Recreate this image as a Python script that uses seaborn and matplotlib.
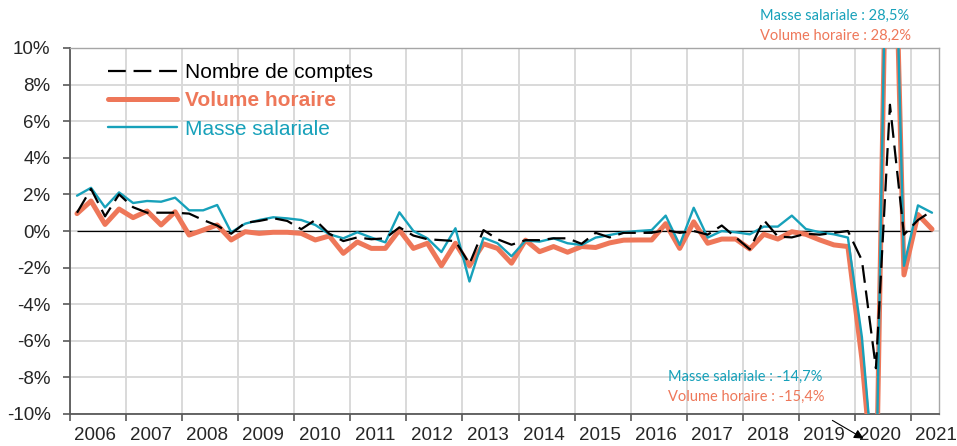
import numpy as np
import pandas as pd
import matplotlib
matplotlib.use("Agg")
import matplotlib.pyplot as plt
import seaborn as sns

# -----------------------------
# DATA (quarterly growth, %)
# -----------------------------
years = [str(y) for y in range(2006, 2022)]
quarters = [f"{y}T{q}" for y in range(2006, 2022) for q in range(1, 5)][:62]

nombre_comptes = [
    1.0, 2.3, 0.8, 2.0, 1.3, 1.0, 1.0, 1.0,
    0.95, 0.6, 0.3, -0.15, 0.45, 0.55, 0.7, 0.55,
    0.1, 0.6, -0.15, -0.55, -0.35, -0.45, -0.4, 0.2,
    -0.25, -0.45, -0.5, -0.55, -1.8, 0.05, -0.45, -0.75,
    -0.5, -0.5, -0.4, -0.4, -0.7, -0.1, -0.35, -0.1,
    -0.1, -0.1, 0.05, -0.1, 0.0, -0.2, 0.3, -0.35,
    -1.0, 0.6, -0.3, -0.35, -0.15, -0.2, -0.1, 0.0,
    -1.6, -7.5, 6.9, -0.2, 0.6, 1.1,
]
volume_horaire = [
    0.95, 1.64, 0.36, 1.2, 0.73, 1.09, 0.33, 1.05,
    -0.22, 0.05, 0.33, -0.49, -0.04, -0.13, -0.07, -0.07,
    -0.13, -0.49, -0.27, -1.22, -0.6, -0.95, -0.95, 0.05,
    -0.95, -0.67, -1.9, -0.67, -1.9, -0.7, -0.95, -1.76,
    -0.5, -1.13, -0.85, -1.16, -0.85, -0.9, -0.65, -0.5,
    -0.49, -0.49, 0.4, -0.95, 0.5, -0.67, -0.44, -0.44,
    -0.98, -0.18, -0.44, -0.04, -0.18, -0.49, -0.76, -0.85,
    -7.0, -15.4, 28.2, -2.4, 0.9, 0.1,
]
masse_salariale = [
    1.93, 2.36, 1.29, 2.11, 1.53, 1.64, 1.6, 1.82,
    1.13, 1.13, 1.42, -0.07, 0.4, 0.6, 0.75, 0.69,
    0.6, 0.33, -0.18, -0.4, -0.07, -0.36, -0.62, 1.02,
    0.0, -0.4, -1.15, 0.15, -2.76, -0.37, -0.67, -1.38,
    -0.52, -0.58, -0.4, -0.67, -0.76, -0.36, -0.22, -0.07,
    0.0, 0.05, 0.84, -0.76, 1.27, -0.36, 0.0, -0.07,
    -0.18, 0.24, 0.24, 0.84, 0.11, -0.07, -0.18, -0.36,
    -5.8, -14.7, 28.5, -1.9, 1.4, 1.0,
]

df = pd.DataFrame({
    "trimestre": quarters,
    "pos": np.arange(len(quarters)),
    "Nombre de comptes": nombre_comptes,
    "Volume horaire": volume_horaire,
    "Masse salariale": masse_salariale,
})

ORANGE = "#EE7759"
TEAL = "#17A1BA"
GRID = "#D9D9D9"

# -----------------------------
# STYLE
# -----------------------------
sns.set_style("white")
plt.rcParams["font.family"] = ["Liberation Sans", "DejaVu Sans"]

fig = plt.figure(figsize=(9.57, 4.46), dpi=100)
ax = fig.add_axes([70 / 957, 1 - 414 / 446, 869 / 957, 366 / 446])

# zero line over the data range
ax.hlines(0, df["pos"].iloc[0], df["pos"].iloc[-1], color="black", lw=0.9, zorder=2)

sns.lineplot(data=df, x="pos", y="Volume horaire", ax=ax, color=ORANGE,
             lw=3.6, label="Volume horaire", zorder=3)
sns.lineplot(data=df, x="pos", y="Masse salariale", ax=ax, color=TEAL,
             lw=1.7, label="Masse salariale", zorder=4)
sns.lineplot(data=df, x="pos", y="Nombre de comptes", ax=ax, color="black",
             lw=1.6, linestyle=(0, (8, 3.5)), label="Nombre de comptes", zorder=5)

# -----------------------------
# AXES
# -----------------------------
n = len(quarters)
ax.set_xlim(-0.5, n - 0.5)
ax.set_ylim(-10, 10)

ax.set_xticks(np.arange(-0.5, n, 4))
ax.set_xticklabels([])
ax.set_xticks(np.arange(1.3, 1.3 + 4 * len(years), 4)[:len(years)], minor=True)
ax.set_xticklabels(years, minor=True)
ax.tick_params(axis="x", which="major", direction="out", length=5, width=1.2,
               color="#595959", bottom=True)
ax.tick_params(axis="x", which="minor", length=0, pad=9, labelsize=13.5)

yt = np.arange(-10, 11, 2)
ax.set_yticks(yt)
ax.set_yticklabels([f"{v}%" for v in yt])
ax.tick_params(axis="y", direction="out", length=5, width=1.2, color="#595959",
               left=True, pad=9, labelsize=13.5)

ax.grid(axis="x", which="major", color=GRID, lw=1.4)
ax.grid(axis="y", which="major", color=GRID, lw=1.4)
ax.set_axisbelow(True)

for s in ["left", "bottom"]:
    ax.spines[s].set_color("#595959")
    ax.spines[s].set_linewidth(1.3)
for s in ["top", "right"]:
    ax.spines[s].set_color("#A6A6A6")
    ax.spines[s].set_linewidth(1.0)

ax.set_xlabel("")
ax.set_ylabel("")

# -----------------------------
# LEGEND
# -----------------------------
h, l = ax.get_legend_handles_labels()
order = [2, 0, 1]
leg = ax.legend([h[i] for i in order], [l[i] for i in order],
                loc="upper left", bbox_to_anchor=(38 / 869, 1 - 15 / 366),
                frameon=False, fontsize=15, handlelength=3.3, handletextpad=0.4,
                labelspacing=0.45, borderpad=0, borderaxespad=0)
txt = leg.get_texts()
txt[0].set_color("black")
txt[1].set_color(ORANGE)
txt[1].set_fontweight("bold")
txt[2].set_color(TEAL)

# -----------------------------
# ANNOTATIONS
# -----------------------------
ann_font = ["Lato", "DejaVu Sans"]
fig.text(835 / 957, 1 - 16 / 446, "Masse salariale : 28,5%", color=TEAL,
         ha="center", va="center", fontsize=10.5, family=ann_font)
fig.text(836 / 957, 1 - 36 / 446, "Volume horaire : 28,2%", color=ORANGE,
         ha="center", va="center", fontsize=10.5, family=ann_font)
fig.text(668 / 957, 1 - 377 / 446, "Masse salariale : -14,7%", color=TEAL,
         ha="left", va="center", fontsize=10.5, family=ann_font)
fig.text(668 / 957, 1 - 397 / 446, "Volume horaire : -15,4%", color=ORANGE,
         ha="left", va="center", fontsize=10.5, family=ann_font)

ax.annotate("", xy=(866 / 957, 6 / 446), xytext=(830 / 957, 27 / 446),
            xycoords="figure fraction", textcoords="figure fraction",
            arrowprops=dict(arrowstyle="-|>", color="black", lw=0.8,
                            mutation_scale=14),
            annotation_clip=False)

fig.savefig("out.png", dpi=100)
